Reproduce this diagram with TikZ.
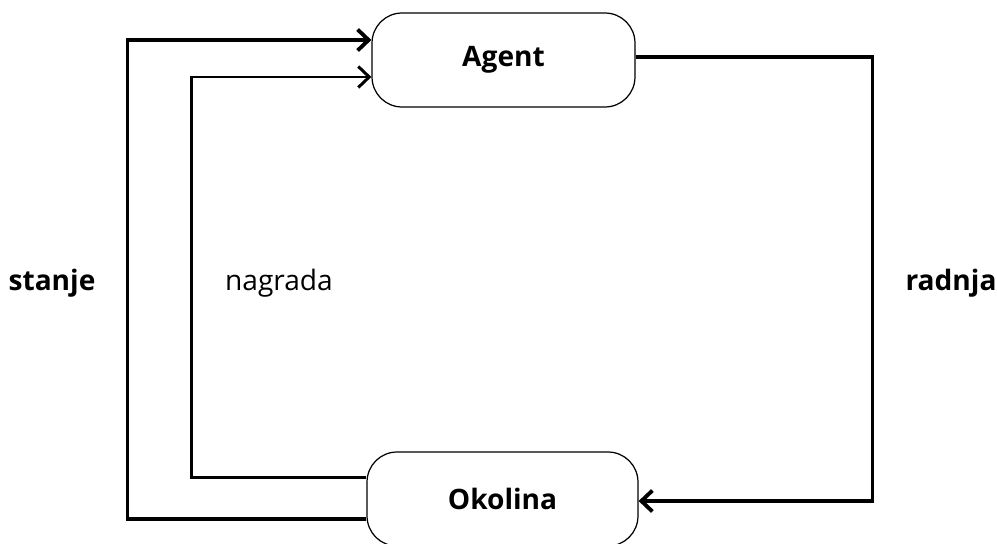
\documentclass[tikz,border=0pt]{standalone}
\usepackage{fontspec}
\setmainfont{Open Sans}
\usetikzlibrary{arrows.meta}
\tikzstyle{block} = [rectangle, draw, line width=0.7pt, rounded corners=0.6cm,
    minimum width=5.26cm, minimum height=1.88cm, font=\fontsize{16}{18}\selectfont\bfseries]
\tikzstyle{line} = [draw, line width=2.2pt, -{Straight Barb[length=2.2mm,width=4.2mm]}]
\tikzstyle{label} = [font=\fontsize{16}{18}\selectfont]

\begin{document}
\begin{tikzpicture}[x=0.02cm, y=-0.02cm]
    \useasboundingbox (0,0) rectangle (997,544);
    % Place nodes
    \node [block] (agent) at (503.5,60) {Agent};
    \node [block, minimum width=5.42cm] (okolina) at (502.5,499) {Okolina};
    \node [label, font=\fontsize{16}{18}\selectfont\bfseries] (stanje) at (52,283) {stanje};
    \node [label] (nagrada) at (279,283) {nagrada};
    \node [label, font=\fontsize{16}{18}\selectfont\bfseries] (radnja) at (951,283) {radnja};
    % Draw edges
    \path [line] ([yshift=-0.4cm]okolina.west) -- ++(-4.78cm,0) |- ([yshift=0.4cm]agent.west);
    \path [line, line width=1.7pt] ([yshift=0.44cm]okolina.west) -- ++(-3.5cm,0) |- ([yshift=-0.34cm]agent.west);
    \path [line] ([yshift=0.06cm]agent.east) -- ++(4.74cm,0) |- ([yshift=-0.04cm]okolina.east);
\end{tikzpicture}
\end{document}
